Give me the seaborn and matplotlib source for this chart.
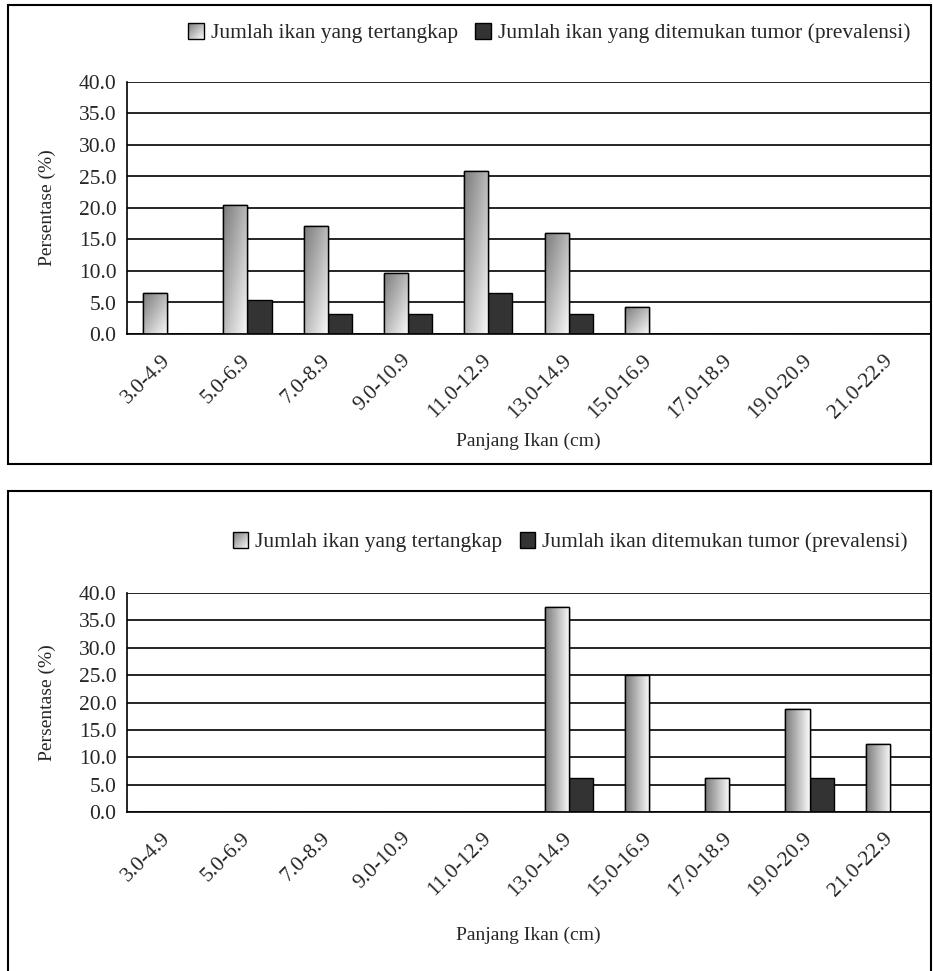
import numpy as np
import pandas as pd
import seaborn as sns
import matplotlib
matplotlib.use("Agg")
import matplotlib.pyplot as plt
from matplotlib.patches import Rectangle
from matplotlib.legend_handler import HandlerBase
from matplotlib.image import BboxImage
from matplotlib.transforms import Bbox, TransformedBbox
from matplotlib.colors import Normalize

# data
kelas = ["3.0-4.9", "5.0-6.9", "7.0-8.9", "9.0-10.9", "11.0-12.9",
         "13.0-14.9", "15.0-16.9", "17.0-18.9", "19.0-20.9", "21.0-22.9"]
tangkap_1 = [6.5, 20.4, 17.2, 9.7, 25.8, 16.1, 4.3, 0, 0, 0]
tumor_1 = [0, 5.4, 3.2, 3.2, 6.5, 3.2, 0, 0, 0, 0]
tangkap_2 = [0, 0, 0, 0, 0, 37.5, 25.0, 6.3, 18.8, 12.5]
tumor_2 = [0, 0, 0, 0, 0, 6.3, 0, 0, 6.3, 0]
seri_1 = ["Jumlah ikan yang tertangkap", "Jumlah ikan yang ditemukan tumor (prevalensi)"]
seri_2 = ["Jumlah ikan yang tertangkap", "Jumlah ikan ditemukan tumor (prevalensi)"]
y_ticks = [0, 5, 10, 15, 20, 25, 30, 35, 40]

sns.set_style("white")
plt.rcParams["font.family"] = ["Liberation Serif", "DejaVu Serif"]
plt.rcParams["font.size"] = 15.5

W, H = 933, 971
fig = plt.figure(figsize=(W / 100, H / 100), dpi=100)


def diag_grad(n=64):
    xx, yy = np.meshgrid(np.linspace(0, 1, n), np.linspace(0, 1, n))
    return 0.48 + 0.5 * (xx + yy) / 2  # dark top-left -> light bottom-right


def horiz_grad(n=64):
    xx = np.tile(np.linspace(0, 1, n), (n, 1))
    return 0.48 + 0.5 * xx


class GradHandler(HandlerBase):
    def __init__(self, grad):
        super().__init__()
        self.grad = grad

    def create_artists(self, legend, orig_handle, xdescent, ydescent,
                       width, height, fontsize, trans):
        s = height
        x0 = -xdescent + (width - s) / 2
        y0 = -ydescent
        bbox = TransformedBbox(Bbox.from_bounds(x0, y0, s, s), trans)
        img = BboxImage(bbox, cmap="gray", norm=Normalize(0, 1), interpolation="bilinear")
        img.set_data(self.grad)
        rect = Rectangle((x0, y0), s, s, fill=False, edgecolor="black", lw=1.0, transform=trans)
        return [img, rect]


class DarkHandler(HandlerBase):
    def create_artists(self, legend, orig_handle, xdescent, ydescent,
                       width, height, fontsize, trans):
        s = height
        x0 = -xdescent + (width - s) / 2
        y0 = -ydescent
        rect = Rectangle((x0, y0), s, s, facecolor="#333333", edgecolor="black", lw=1.0, transform=trans)
        return [rect]


def panel(rect_px, tangkap, tumor, seri, grad, leg_xy, xlabel_y):
    left, top, right, bottom = rect_px
    ax = fig.add_axes([left / W, 1 - bottom / H, (right - left) / W, (bottom - top) / H])
    df = pd.DataFrame({
        "kelas": kelas * 2,
        "persen": tangkap + tumor,
        "seri": [seri[0]] * len(kelas) + [seri[1]] * len(kelas),
    })
    sns.barplot(data=df, x="kelas", y="persen", hue="seri", order=kelas, hue_order=seri,
                palette=["#d9d9d9", "#333333"], width=0.6, edgecolor="black", linewidth=1.0,
                saturation=1, ax=ax, legend=False)

    # gradient fill on the light bars
    for bar in ax.containers[0]:
        h = bar.get_height()
        if h <= 0:
            continue
        x0 = bar.get_x()
        w = bar.get_width()
        im = ax.imshow(grad, extent=[x0, x0 + w, 0, h], aspect="auto", cmap="gray",
                       vmin=0, vmax=1, interpolation="bilinear", zorder=bar.get_zorder() + 0.1)
        im.set_clip_path(bar)
        ax.add_patch(Rectangle((x0, 0), w, h, fill=False, edgecolor="black", lw=1.0,
                               zorder=bar.get_zorder() + 0.2))

    ax.set_xlim(-0.5, len(kelas) - 0.5)
    ax.set_ylim(0, 40)
    ax.set_yticks(y_ticks)
    ax.set_yticklabels([f"{v:.1f}" for v in y_ticks])
    ax.set_xticks(np.arange(-0.5, len(kelas), 1))
    ax.set_xticklabels([])
    ax.set_xticks(np.arange(len(kelas)), minor=True)
    ax.set_xticklabels(kelas, minor=True, rotation=45, ha="right", va="center",
                       rotation_mode="anchor")
    ax.tick_params(axis="x", which="major", direction="out", length=5, width=1.2, color="black")
    ax.tick_params(axis="x", which="minor", length=0, pad=17)
    ax.tick_params(axis="y", direction="inout", length=9, width=1.2, color="black", pad=3)
    ax.yaxis.grid(True, color="black", lw=1.2)
    ax.set_axisbelow(True)
    for s in ["top", "right"]:
        ax.spines[s].set_visible(False)
    for s in ["left", "bottom"]:
        ax.spines[s].set_color("black")
        ax.spines[s].set_linewidth(1.2)

    ax.set_ylabel("Persentase (%)", fontsize=14)
    ax.yaxis.set_label_coords((56 - left) / (right - left), 0.5)
    ax.set_xlabel("Panjang Ikan (cm)", fontsize=14)
    ax.xaxis.set_label_coords((528 - left) / (right - left), (bottom - xlabel_y) / (bottom - top))

    h1 = Rectangle((0, 0), 1, 1)
    h2 = Rectangle((0, 0), 1, 1)
    ax.legend([h1, h2], seri, loc="center", ncol=2, frameon=False,
              bbox_to_anchor=(leg_xy[0] / W, 1 - leg_xy[1] / H), bbox_transform=fig.transFigure,
              handler_map={h1: GradHandler(diag_grad()), h2: DarkHandler()},
              handlelength=0.75, handleheight=0.75, handletextpad=0.3, columnspacing=0.8,
              fontsize=15.5)
    return ax


panel((127, 82, 930, 334), tangkap_1, tumor_1, seri_1, diag_grad(), (549, 33), 433)
panel((127, 593, 930, 812), tangkap_2, tumor_2, seri_2, horiz_grad(), (570, 542), 927)

# outer frames around each chart
fig.add_artist(Rectangle((8 / W, 1 - 464 / H), 923 / W, 459 / H, transform=fig.transFigure,
                         fill=False, edgecolor="black", lw=1.5))
fig.add_artist(Rectangle((8 / W, -0.05), 923 / W, (1 - 491 / H) + 0.05, transform=fig.transFigure,
                         fill=False, edgecolor="black", lw=1.5))

fig.savefig("out.png", dpi=100, facecolor="white")
